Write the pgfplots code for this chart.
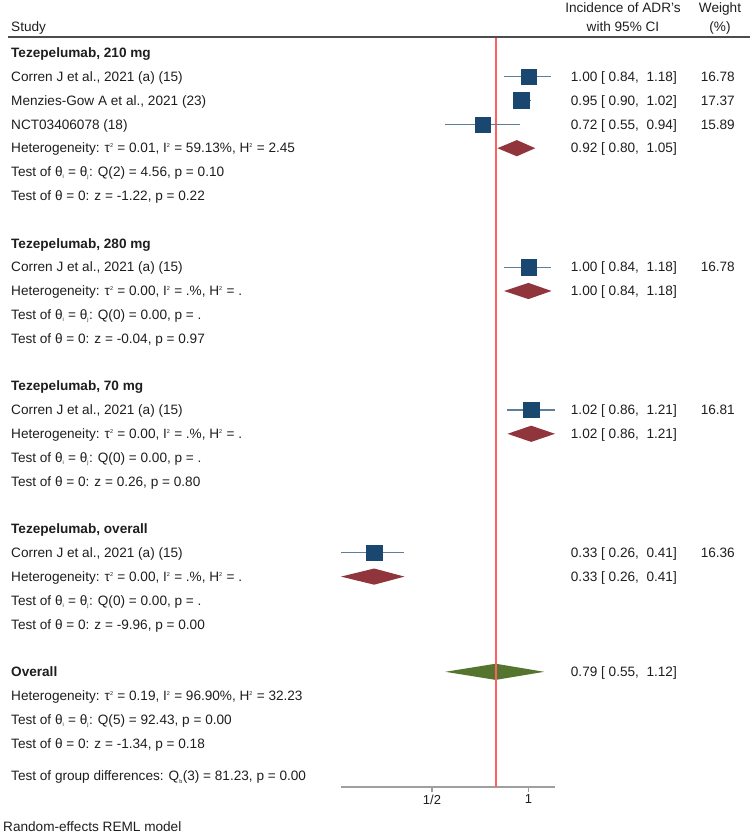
\documentclass[border=0pt]{standalone}
\usepackage{pgfplots}
\pgfplotsset{compat=1.18}
\usepackage{fontspec}
\setmainfont{Liberation Sans}
\definecolor{navy}{HTML}{1A476F}
\definecolor{maroon}{HTML}{90353B}
\definecolor{fgreen}{HTML}{55752F}
\definecolor{txt}{HTML}{1E1E1E}
\colorlet{pinkline}{red!62!white}
\newcommand\sq{\textsuperscript{\fontsize{5.5}{5.5}\selectfont 2}}
\newcommand\sub[1]{\textsubscript{\fontsize{5.5}{5.5}\selectfont #1}}
% text placement helpers (row -> y = -row)
\newcommand\Lt[2]{\node[anchor=base west] at ([xshift=-330pt,yshift=-4.8pt]axis cs:0.26,-#1) {#2};}
\newcommand\Es[2]{\node[anchor=base east] at ([xshift=336pt,yshift=-4.8pt]axis cs:0.26,-#1) {#2};}
\newcommand\Wt[2]{\node[anchor=base east] at ([xshift=394pt,yshift=-4.8pt]axis cs:0.26,-#1) {#2};}
\newcommand\Het[3]{Heterogeneity: τ\sq{} = #1, I\sq{} = #2, H\sq{} = #3}
\newcommand\Tq[2]{Test of θ\sub{i} = θ\sub{j}: Q(#1) = #2}
\begin{document}
\begin{tikzpicture}[font=\fontsize{13.6}{16}\selectfont, every node/.append style={text=txt, inner sep=0pt}]
\useasboundingbox (-341pt,-48pt) rectangle (412pt,787pt);
\begin{axis}[
  scale only axis, width=214pt, height=750pt,
  xmode=log, log basis x=2,
  xmin=0.26, xmax=1.21,
  ymin=-30.84, ymax=0.672,
  axis x line*=bottom, axis y line=none,
  xtick={0.5,1}, xticklabels={1/2,1}, minor xtick={},
  tick align=outside, major tick length=4.5pt,
  x axis line style={draw=gray!75, line width=1.4pt, -},
  every tick/.style={draw=gray!75, line width=1.2pt},
  xticklabel style={font=\fontsize{13}{13}\selectfont, text=txt, yshift=-3pt},
  clip=false,
]
% overall diamond
\addplot[fill=fgreen, draw=none] coordinates {(0.55,-26) (0.79,-25.66) (1.12,-26) (0.79,-26.34) (0.55,-26)};
% overall effect line
\addplot[color=pinkline, solid, no marks, line width=2pt] coordinates {(0.79,0.672) (0.79,-30.84)};
% confidence intervals
\addplot[navy!70, line width=1.3pt] coordinates {(0.84,-1) (1.18,-1)};
\addplot[navy!70, line width=1.3pt] coordinates {(0.90,-2) (1.02,-2)};
\addplot[navy!70, line width=1.3pt] coordinates {(0.55,-3) (0.94,-3)};
\addplot[navy!70, line width=1.3pt] coordinates {(0.84,-9) (1.18,-9)};
\addplot[navy!70, line width=1.3pt] coordinates {(0.86,-15) (1.21,-15)};
\addplot[navy!70, line width=1.3pt] coordinates {(0.26,-21) (0.41,-21)};
% study estimates (square size ~ weight)
\addplot[only marks, mark=square*, mark size=7.7pt, mark options={fill=navy, draw=navy, line width=0.5pt, rounded corners=1.5pt}] coordinates {(1.00,-1)};
\addplot[only marks, mark=square*, mark size=7.9pt, mark options={fill=navy, draw=navy, line width=0.5pt, rounded corners=1.5pt}] coordinates {(0.95,-2)};
\addplot[only marks, mark=square*, mark size=7.5pt, mark options={fill=navy, draw=navy, line width=0.5pt, rounded corners=1.5pt}] coordinates {(0.72,-3)};
\addplot[only marks, mark=square*, mark size=7.7pt, mark options={fill=navy, draw=navy, line width=0.5pt, rounded corners=1.5pt}] coordinates {(1.00,-9)};
\addplot[only marks, mark=square*, mark size=7.7pt, mark options={fill=navy, draw=navy, line width=0.5pt, rounded corners=1.5pt}] coordinates {(1.02,-15)};
\addplot[only marks, mark=square*, mark size=7.6pt, mark options={fill=navy, draw=navy, line width=0.5pt, rounded corners=1.5pt}] coordinates {(0.33,-21)};
% subgroup diamonds
\addplot[fill=maroon, draw=none] coordinates {(0.80,-4) (0.92,-3.66) (1.05,-4) (0.92,-4.34) (0.80,-4)};
\addplot[fill=maroon, draw=none] coordinates {(0.84,-10) (1.00,-9.66) (1.18,-10) (1.00,-10.34) (0.84,-10)};
\addplot[fill=maroon, draw=none] coordinates {(0.86,-16) (1.02,-15.66) (1.21,-16) (1.02,-16.34) (0.86,-16)};
\addplot[fill=maroon, draw=none] coordinates {(0.26,-22) (0.33,-21.66) (0.41,-22) (0.33,-22.34) (0.26,-22)};

% header
\draw[line width=1.6pt, draw=black!70] ([xshift=-333pt]axis cs:0.26,0.672) -- ([xshift=409pt]axis cs:0.26,0.672);
\node[anchor=base west] at ([xshift=-330pt,yshift=-4.8pt]axis cs:0.26,1.09) {Study};
\node[anchor=base] at ([xshift=282pt,yshift=-4.8pt]axis cs:0.26,1.89) {Incidence of ADR's};
\node[anchor=base] at ([xshift=282pt,yshift=-4.8pt]axis cs:0.26,1.09) {with 95\% CI};
\node[anchor=base] at ([xshift=379pt,yshift=-4.8pt]axis cs:0.26,1.89) {Weight};
\node[anchor=base] at ([xshift=379pt,yshift=-4.8pt]axis cs:0.26,1.09) {(\%)};

% Tezepelumab 210
\Lt{0}{\textbf{Tezepelumab, 210 mg}}
\Lt{1}{Corren J et al., 2021 (a) (15)} \Es{1}{1.00 [~0.84,~~1.18]} \Wt{1}{16.78}
\Lt{2}{Menzies-Gow A et al., 2021 (23)} \Es{2}{0.95 [~0.90,~~1.02]} \Wt{2}{17.37}
\Lt{3}{NCT03406078 (18)} \Es{3}{0.72 [~0.55,~~0.94]} \Wt{3}{15.89}
\Lt{4}{\Het{0.01}{59.13\%}{2.45}} \Es{4}{0.92 [~0.80,~~1.05]}
\Lt{5}{\Tq{2}{4.56, p = 0.10}}
\Lt{6}{Test of θ = 0: z = -1.22, p = 0.22}
% Tezepelumab 280
\Lt{8}{\textbf{Tezepelumab, 280 mg}}
\Lt{9}{Corren J et al., 2021 (a) (15)} \Es{9}{1.00 [~0.84,~~1.18]} \Wt{9}{16.78}
\Lt{10}{\Het{0.00}{.\%}{.}} \Es{10}{1.00 [~0.84,~~1.18]}
\Lt{11}{\Tq{0}{0.00, p = .}}
\Lt{12}{Test of θ = 0: z = -0.04, p = 0.97}
% Tezepelumab 70
\Lt{14}{\textbf{Tezepelumab, 70 mg}}
\Lt{15}{Corren J et al., 2021 (a) (15)} \Es{15}{1.02 [~0.86,~~1.21]} \Wt{15}{16.81}
\Lt{16}{\Het{0.00}{.\%}{.}} \Es{16}{1.02 [~0.86,~~1.21]}
\Lt{17}{\Tq{0}{0.00, p = .}}
\Lt{18}{Test of θ = 0: z = 0.26, p = 0.80}
% Tezepelumab overall
\Lt{20}{\textbf{Tezepelumab, overall}}
\Lt{21}{Corren J et al., 2021 (a) (15)} \Es{21}{0.33 [~0.26,~~0.41]} \Wt{21}{16.36}
\Lt{22}{\Het{0.00}{.\%}{.}} \Es{22}{0.33 [~0.26,~~0.41]}
\Lt{23}{\Tq{0}{0.00, p = .}}
\Lt{24}{Test of θ = 0: z = -9.96, p = 0.00}
% Overall
\Lt{26}{\textbf{Overall}} \Es{26}{0.79 [~0.55,~~1.12]}
\Lt{27}{\Het{0.19}{96.90\%}{32.23}}
\Lt{28}{\Tq{5}{92.43, p = 0.00}}
\Lt{29}{Test of θ = 0: z = -1.34, p = 0.18}
\Lt{30.38}{Test of group differences: Q\sub{b}(3) = 81.23, p = 0.00}
\node[anchor=base west] at ([xshift=-338pt,yshift=-4.8pt]axis cs:0.26,-32.5) {Random-effects REML model};
\end{axis}
\end{tikzpicture}
\end{document}
